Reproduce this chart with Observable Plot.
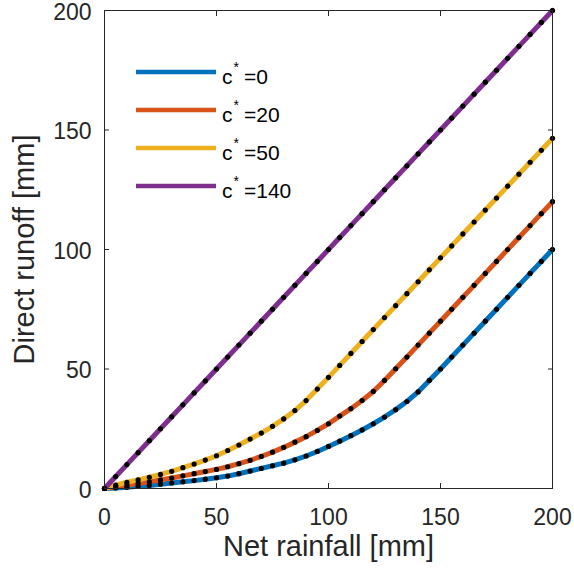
<!DOCTYPE html>
<html><head><meta charset="utf-8">
<script src="https://cdn.jsdelivr.net/npm/d3@7"></script>
<script src="https://cdn.jsdelivr.net/npm/@observablehq/plot@0.6"></script>
<style>body{margin:0;background:#fff}#chart{width:574px;height:571px}</style>
</head><body><div id="chart"></div>
<script>
const rainfall = [0,5,10,15,20,25,30,35,40,45,50,55,60,65,70,75,80,85,90,95,100,105,110,115,120,125,130,135,140,145,150,155,160,165,170,175,180,185,190,195,200];
const runoffC0 = [0,0.2,0.5,0.9,1.3,1.8,2.3,2.8,3.3,3.9,4.5,5.2,6.2,7.3,8.4,9.5,10.6,12.0,13.6,15.5,17.6,19.8,22.1,24.5,27.1,29.9,33.0,36.4,40.4,45.2,50,55,60,65,70,75,80,85,90,95,100];
const runoffC20 = [0,0.8,1.5,2.1,2.8,3.6,4.4,5.3,6.2,7.1,8.0,9.1,10.4,11.8,13.4,15.2,17.2,19.4,21.7,24.3,27.1,30.3,33.4,36.8,40.6,45.2,50.1,55,60,65,70,75,80,85,90,95,100,105,110,115,120];
const runoffC50 = [0,1.4,2.6,3.6,4.7,5.9,7.2,8.7,10.2,11.9,13.7,15.9,18.2,20.7,23.2,26.0,29.1,32.6,36.8,41.6,46.5,51.5,56.5,61.5,66.5,71.5,76.5,81.5,86.5,91.5,96.5,101.5,106.5,111.5,116.5,121.5,126.5,131.5,136.5,141.5,146.5];
const runoffC140 = [0,5,10,15,20,25,30,35,40,45,50,55,60,65,70,75,80,85,90,95,100,105,110,115,120,125,130,135,140,145,150,155,160,165,170,175,180,185,190,195,200];
const seriesNames = ["c*=0","c*=20","c*=50","c*=140"];
const seriesCodes = ["0","20","50","140"];
const seriesColors = ["#0072BD","#D95319","#EDB120","#7E2F8E"];
const xTicks = [0,50,100,150,200];
const yTicks = [0,50,100,150,200];
const xTitle = "Net rainfall [mm]";
const yTitle = "Direct runoff [mm]";

const seriesValues = [runoffC0, runoffC20, runoffC50, runoffC140];
const rows = [];
seriesValues.forEach((vals, k) => vals.forEach((q, i) => rows.push({series: seriesNames[k], P: rainfall[i], Q: q})));

const font = "'Liberation Sans', Arial, Helvetica, sans-serif";
const ink = "#262626";

const chart = Plot.plot({
  width: 574, height: 571,
  marginLeft: 104, marginRight: 22, marginTop: 10, marginBottom: 83,
  style: {fontFamily: font, fontSize: "23px", color: ink, background: "#fff", overflow: "visible"},
  x: {domain: [0, 200]},
  y: {domain: [0, 200]},
  color: {domain: seriesNames, range: seriesColors},
  marks: [
    Plot.line(rows, {x: "P", y: "Q", z: "series", stroke: "series", strokeWidth: 5}),
    Plot.dot(rows, {x: "P", y: "Q", r: 2.6, fill: "black"}),
    Plot.frame({stroke: ink, strokeWidth: 1}),
    Plot.axisX({ticks: xTicks, anchor: "bottom", tickSize: 5, dy: -5, tickFormat: () => "", label: null, stroke: ink}),
    Plot.axisX({ticks: xTicks, anchor: "top", tickSize: 5, dy: 5, tickFormat: () => "", label: null, stroke: ink}),
    Plot.axisY({ticks: yTicks, anchor: "left", tickSize: 5, dx: 5, tickFormat: () => "", label: null, stroke: ink}),
    Plot.axisY({ticks: yTicks, anchor: "right", tickSize: 5, dx: -5, tickFormat: () => "", label: null, stroke: ink}),
    Plot.axisX({ticks: xTicks, anchor: "bottom", tickSize: 0, tickPadding: 20, label: null, fontSize: 23, fill: ink}),
    Plot.axisY({ticks: yTicks, anchor: "left", tickSize: 0, tickPadding: 13, dy: 2, label: null, fontSize: 23, fill: ink}),
    Plot.text([xTitle], {frameAnchor: "bottom", dy: 67, fontSize: 29, fill: ink}),
    Plot.text([yTitle], {frameAnchor: "left", textAnchor: "middle", dx: -80, rotate: -90, fontSize: 29, fill: ink})
  ]
});
document.getElementById("chart").appendChild(chart);

// legend inside the axes (upper left)
const svg = d3.select(chart);
const lg = svg.append("g").attr("font-family", font).attr("fill", "#000").attr("text-anchor", "start");
seriesNames.forEach((name, i) => {
  const y = 72 + i * 38;
  lg.append("line").attr("x1", 136).attr("x2", 216).attr("y1", y).attr("y2", y)
    .attr("stroke", seriesColors[i]).attr("stroke-width", 4.5);
  const t = lg.append("text").attr("x", 222).attr("y", y + 12).attr("font-size", 21);
  t.append("tspan").text("c");
  t.append("tspan").attr("font-size", 14).attr("dx", 1).attr("dy", -12).text("*");
  t.append("tspan").attr("font-size", 21).attr("dx", 5).attr("dy", 12).text("=" + seriesCodes[i]);
});
</script></body></html>
